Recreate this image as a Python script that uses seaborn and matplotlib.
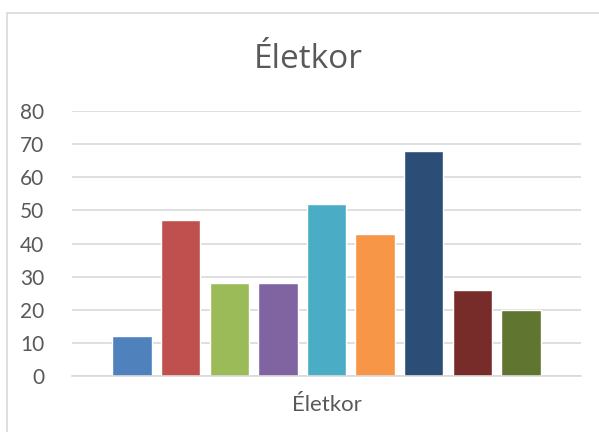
import pandas as pd
import matplotlib.pyplot as plt
import seaborn as sns
from matplotlib.patches import Rectangle

# data
category = ['Életkor']
series = ['1', '2', '3', '4', '5', '6', '7', '8', '9']
values = [12, 47, 28, 28, 52, 43, 68, 26, 20]
colors = ['#4F81BD', '#C0504D', '#9BBB59', '#8064A2', '#4BACC6',
          '#F79646', '#2C4D75', '#772C2A', '#5F7530']

df = pd.DataFrame({'cat': category * len(series), 'series': series, 'value': values})

sns.set_style('white')
plt.rcParams['font.family'] = ['Lato', 'DejaVu Sans']

fig = plt.figure(figsize=(5.99, 4.32), dpi=100)
ax = fig.add_axes([72 / 599, 1 - 376 / 432, (581 - 72) / 599, (376 - 111) / 432])

sns.barplot(data=df, x='cat', y='value', hue='series', palette=colors,
            width=0.86, gap=0.19, legend=False, ax=ax, saturation=1)

ax.set_xlim(-0.5, 0.5)
ax.set_ylim(0, 80)
ax.set_yticks(range(0, 81, 10))
ax.yaxis.grid(True, color='#d9d9d9', linewidth=1.2)
ax.set_axisbelow(True)
for s in ['top', 'right', 'left']:
    ax.spines[s].set_visible(False)
ax.spines['bottom'].set_color('#d9d9d9')
ax.spines['bottom'].set_linewidth(1.2)
ax.tick_params(axis='y', length=0, pad=20, labelsize=15, labelcolor='#595959')
ax.tick_params(axis='x', length=0, labelbottom=False)
ax.set_ylabel('')
ax.set_xlabel('Életkor', fontsize=16, color='#595959', labelpad=14)

fig.text(0.515, 1 - 68 / 432, 'Életkor', ha='center', va='baseline',
         fontsize=24, color='#595959', family=['Open Sans', 'DejaVu Sans'])

# chart area border
fig.patches.append(Rectangle((6.5 / 599, -0.1), 1.2, 1.1 - 13.5 / 432,
                             transform=fig.transFigure, fill=False,
                             edgecolor='#d9d9d9', linewidth=1.2))

fig.savefig('out.png', dpi=100)
